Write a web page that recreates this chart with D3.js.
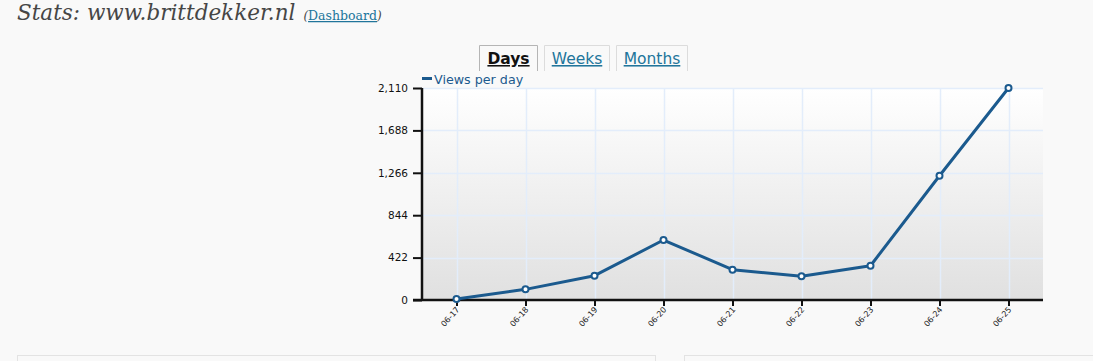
<!DOCTYPE html>
<html>
<head>
<meta charset="utf-8">
<script src="https://cdn.jsdelivr.net/npm/d3@7"></script>
<style>
  html, body { margin: 0; padding: 0; background: #f9f9f9; }
  body { width: 1093px; height: 361px; overflow: hidden; position: relative; }
  svg { position: absolute; left: 0; top: 0; }
</style>
</head>
<body>
<svg id="chart" width="1093" height="361"></svg>
<script>
const categories = ["06-17", "06-18", "06-19", "06-20", "06-21", "06-22", "06-23", "06-24", "06-25"];
const views = [10, 106, 242, 597, 302, 236, 341, 1237, 2110];
const yTicks = [0, 422, 844, 1266, 1688, 2110];
const tabs = ["Days", "Weeks", "Months"];
const seriesName = "Views per day";

const svg = d3.select("#chart");
const plot = { left: 422, right: 1043, top: 88, bottom: 300 };

// Title
const title = svg.append("text").attr("x", 17).attr("y", 20)
  .attr("font-family", "'DejaVu Serif', Georgia, serif").attr("font-style", "italic")
  .attr("font-size", 21.5).attr("fill", "#464646");
title.append("tspan").text("Stats: www.brittdekker.nl");
title.append("tspan").attr("font-size", 12).attr("dx", 8).text("(");
title.append("tspan").attr("font-size", 12.5).attr("font-style", "normal").attr("fill", "#21759b")
  .attr("text-decoration", "underline").text("Dashboard");
title.append("tspan").attr("font-size", 12).text(")");

// Bottom boxes
svg.append("rect").attr("x", 17.5).attr("y", 355.5).attr("width", 638).attr("height", 20)
  .attr("fill", "#f9f9f9").attr("stroke", "#e3e3e3");
svg.append("rect").attr("x", 684.5).attr("y", 355.5).attr("width", 420).attr("height", 20)
  .attr("fill", "#f9f9f9").attr("stroke", "#e3e3e3");

// Tabs
const tabX = [479, 544, 616];
const tabW = [59, 66, 72];
tabs.forEach((t, i) => {
  const g = svg.append("g");
  g.append("path")
    .attr("d", `M${tabX[i] + 0.5},71 V45.5 H${tabX[i] + tabW[i] - 0.5} V71`)
    .attr("fill", "#f9f9f9")
    .attr("stroke", i === 0 ? "#b5b5b5" : "#dcdcdc");
  g.append("text").attr("x", tabX[i] + tabW[i] / 2).attr("y", 64)
    .attr("text-anchor", "middle")
    .attr("font-family", "'DejaVu Sans', Verdana, sans-serif")
    .attr("font-size", 15.5)
    .attr("font-weight", i === 0 ? "bold" : "normal")
    .attr("fill", i === 0 ? "#111" : "#21759b")
    .attr("text-decoration", "underline")
    .text(t);
});

// Scales
const x = d3.scalePoint().domain(categories).range([plot.left, plot.right]).padding(0.5);
const y = d3.scaleLinear().domain([0, 2110]).range([plot.bottom, plot.top]);

// Gradient background
const defs = svg.append("defs");
const grad = defs.append("linearGradient").attr("id", "bg").attr("x1", 0).attr("y1", 0).attr("x2", 0).attr("y2", 1);
grad.append("stop").attr("offset", "0%").attr("stop-color", "#ffffff");
grad.append("stop").attr("offset", "100%").attr("stop-color", "#e0e0e0");
svg.append("rect").attr("x", plot.left).attr("y", plot.top)
  .attr("width", plot.right - plot.left).attr("height", plot.bottom - plot.top)
  .attr("fill", "url(#bg)");

// Grid
svg.append("g").selectAll("line").data(yTicks.slice(1)).join("line")
  .attr("x1", plot.left).attr("x2", plot.right)
  .attr("y1", d => Math.round(y(d)) + 0.5).attr("y2", d => Math.round(y(d)) + 0.5)
  .attr("stroke", "#e3edfb").attr("stroke-width", 1.5);
svg.append("g").selectAll("line").data(categories).join("line")
  .attr("x1", d => Math.round(x(d)) + 0.5).attr("x2", d => Math.round(x(d)) + 0.5)
  .attr("y1", plot.top).attr("y2", plot.bottom)
  .attr("stroke", "#e3edfb").attr("stroke-width", 1.5);

// Y axis
const yAxis = svg.append("g").attr("transform", `translate(${plot.left},0)`)
  .call(d3.axisLeft(y).tickValues(yTicks).tickSize(9).tickPadding(5).tickFormat(d3.format(",")));
yAxis.select(".domain").attr("stroke", "#111").attr("stroke-width", 2.5)
  .attr("d", `M0,${plot.top}V${plot.bottom}`);
yAxis.selectAll(".tick line").attr("stroke", "#111").attr("stroke-width", 2);
yAxis.selectAll(".tick text").attr("font-family", "'DejaVu Sans', Verdana, sans-serif")
  .attr("font-size", 10.5).attr("fill", "#111");

// X axis
const xAxis = svg.append("g").attr("transform", `translate(0,${plot.bottom})`)
  .call(d3.axisBottom(x).tickSize(6).tickSizeOuter(0));
xAxis.select(".domain").attr("stroke", "#111").attr("stroke-width", 2.5)
  .attr("d", `M${plot.left - 9},0H${plot.right}`);
xAxis.selectAll(".tick line").attr("stroke", "#111").attr("stroke-width", 2);
xAxis.selectAll(".tick text")
  .attr("font-family", "'DejaVu Sans', Verdana, sans-serif")
  .attr("font-size", 8).attr("fill", "#222")
  .attr("text-anchor", "end").attr("dy", null).attr("y", 0)
  .attr("transform", "translate(3,10) rotate(-48)");

// Line
const line = d3.line().x((d, i) => x(categories[i])).y(d => y(d));
svg.append("path").datum(views).attr("d", line)
  .attr("fill", "none").attr("stroke", "#1b5a8e").attr("stroke-width", 3)
  .attr("stroke-linejoin", "round");
svg.append("g").selectAll("circle").data(views).join("circle")
  .attr("cx", (d, i) => x(categories[i])).attr("cy", d => y(d))
  .attr("r", 3).attr("fill", "#fff").attr("stroke", "#1b5a8e").attr("stroke-width", 2);

// Legend
svg.append("rect").attr("x", 422).attr("y", 77).attr("width", 10).attr("height", 3).attr("fill", "#1b5a8e");
svg.append("text").attr("x", 434).attr("y", 84)
  .attr("font-family", "'DejaVu Sans', Verdana, sans-serif").attr("font-size", 12.7)
  .attr("fill", "#1b5a8e").text(seriesName);
</script>
</body>
</html>
